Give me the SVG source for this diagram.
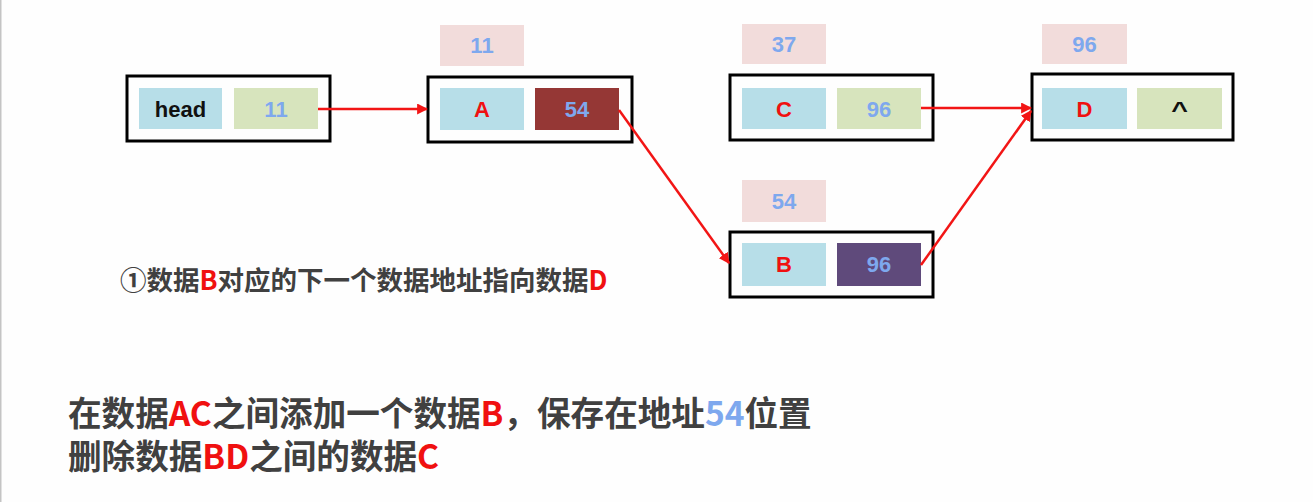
<svg xmlns="http://www.w3.org/2000/svg" width="1313" height="502" viewBox="0 0 1313 502">
<defs>
<style>
.frame{fill:none;stroke:#000;stroke-width:3}
.data{fill:#b7dee8}
.ptr{fill:#d7e4bd}
.addr{fill:#f2dcdb}
.t{font-family:"Liberation Sans","Noto Sans CJK SC",sans-serif;font-weight:bold;font-size:22px;text-anchor:middle}
.blue{fill:#7ea8ee}
.red{fill:#f01010}
.blk{fill:#111}
.conn{stroke:#f21515;stroke-width:2.5;fill:none}
.cap{font-family:"Noto Sans CJK SC","Liberation Sans",sans-serif;font-weight:bold;fill:#404040}
</style>
<marker id="ah" viewBox="0 0 10 10" refX="9" refY="5" markerWidth="4.4" markerHeight="4.4" orient="auto" markerUnits="strokeWidth">
<path d="M0,0 L10,5 L0,10 z" fill="#f21515"/>
</marker>
</defs>
<rect x="0" y="0" width="1313" height="502" fill="#fefefe"/>
<rect x="0" y="0" width="1.5" height="502" fill="#c4c4c4"/>

<g id="node-head">
<rect class="frame" x="127" y="76" width="203" height="65"/>
<rect class="data" x="139" y="88" width="83" height="41"/>
<rect class="ptr" x="234" y="88" width="84" height="41"/>
<text class="t blk" x="180.5" y="117">head</text>
<text class="t blue" x="276" y="117">11</text>
</g>

<g id="node-A">
<rect class="addr" x="440" y="25" width="84" height="41"/>
<text class="t blue" x="482" y="53">11</text>
<rect class="frame" x="428" y="77" width="204" height="65"/>
<rect class="data" x="440" y="88" width="84" height="42"/>
<rect x="535" y="88" width="84" height="42" fill="#953735"/>
<text class="t red" x="482" y="117">A</text>
<text class="t blue" x="577" y="117">54</text>
</g>

<g id="node-C">
<rect class="addr" x="742" y="24" width="84" height="40"/>
<text class="t blue" x="784" y="52">37</text>
<rect class="frame" x="730" y="75" width="203" height="65"/>
<rect class="data" x="742" y="88" width="84" height="41"/>
<rect class="ptr" x="837" y="88" width="84" height="41"/>
<text class="t red" x="784" y="117">C</text>
<text class="t blue" x="879" y="117">96</text>
</g>

<g id="node-D">
<rect class="addr" x="1042" y="24" width="85" height="40"/>
<text class="t blue" x="1084.5" y="52">96</text>
<rect class="frame" x="1032" y="74" width="201" height="66"/>
<rect class="data" x="1042" y="88" width="85" height="41"/>
<rect class="ptr" x="1137" y="88" width="85" height="41"/>
<text class="t red" x="1084.5" y="117">D</text>
<text class="t blk" transform="translate(1179.5,118) scale(1.3,1)" x="0" y="0" font-size="31">^</text>
</g>

<g id="node-B">
<rect class="addr" x="742" y="180" width="84" height="42"/>
<text class="t blue" x="784" y="209">54</text>
<rect class="frame" x="730" y="232" width="203" height="65"/>
<rect class="data" x="742" y="243" width="84" height="43"/>
<rect x="837" y="243" width="84" height="43" fill="#5f4a7b"/>
<text class="t red" x="784" y="272">B</text>
<text class="t blue" x="879" y="272">96</text>
</g>

<g id="connectors">
<line class="conn" x1="318" y1="109" x2="427" y2="109" marker-end="url(#ah)"/>
<line class="conn" x1="619" y1="110" x2="729" y2="263" marker-end="url(#ah)"/>
<line class="conn" x1="921" y1="108" x2="1031" y2="108" marker-end="url(#ah)"/>
<line class="conn" x1="921" y1="265" x2="1031" y2="111" marker-end="url(#ah)"/>
</g>

<g id="captions">
<text class="cap" x="120" y="290" font-size="26.5">①数据<tspan class="red">B</tspan>对应的下一个数据地址指向数据<tspan class="red">D</tspan></text>
<text class="cap" x="68" y="426" font-size="33.6">在数据<tspan class="red">AC</tspan>之间添加一个数据<tspan class="red">B</tspan>，保存在地址<tspan class="blue">54</tspan>位置</text>
<text class="cap" x="68" y="469" font-size="33.6">删除数据<tspan class="red">BD</tspan>之间的数据<tspan class="red">C</tspan></text>
</g>
</svg>
